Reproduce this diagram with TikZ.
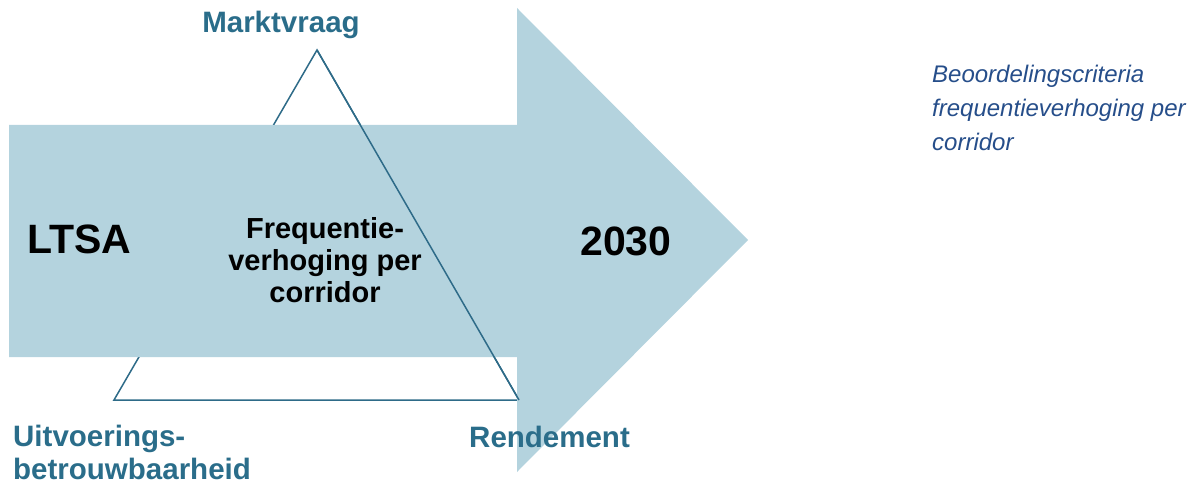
\documentclass[tikz,border=0pt]{standalone}
\usepackage{fontspec}
\setmainfont{Liberation Sans}
\usetikzlibrary{positioning}
\definecolor{arrowblue}{HTML}{B4D3DE}
\definecolor{edgeteal}{HTML}{2E6B88}
\definecolor{labelteal}{HTML}{2A6D8A}
\definecolor{notenavy}{HTML}{264E8A}
\tikzstyle{bigtext} = [font=\fontsize{41}{41}\selectfont\bfseries, inner sep=0pt]
\tikzstyle{midtext} = [font=\fontsize{29}{32}\selectfont\bfseries, align=center, inner sep=0pt]
\tikzstyle{corner} = [font=\fontsize{29.5}{33}\selectfont\bfseries, text=labelteal, inner sep=0pt]
\tikzstyle{note} = [font=\fontsize{24}{34}\selectfont\itshape, text=notenavy, align=left, inner sep=0pt]
\tikzstyle{edge} = [draw=edgeteal, line width=1.5pt]

\begin{document}
\begin{tikzpicture}[x=1pt, y=-1pt]
			\useasboundingbox (0,0) rectangle (1200,489);
			\coordinate (apex) at (317,50);
			\coordinate (bl) at (114,400);
			\coordinate (br) at (519,400);
			
			\path [edge, fill=white] (apex) -- (bl) -- (br) -- cycle;
			\fill [arrowblue] (9,125) -- (517,125) -- (517,8) -- (748,240) -- (517,472) -- (517,357) -- (9,357) -- cycle;
			\path [edge] (apex) -- (br);
			
			\node [bigtext, anchor=base west] (ltsa) at (27,254) {LTSA};
			\node [bigtext, anchor=base west] (year) at (580,255) {2030};
			\node [midtext, anchor=north] (centre) at (325,217) {Frequentie-\\verhoging per\\corridor};
			
			\node [corner, anchor=base] (demand) at (281,33) {Marktvraag};
			\node [corner, anchor=north west, align=left] (reliab) at (13,425) {Uitvoerings-\\betrouwbaarheid};
			\node [corner, anchor=base west] (yield) at (469,447) {Rendement};
			
			\node [note, anchor=north west] (criteria) at (932,64.5) {Beoordelingscriteria\\frequentieverhoging per\\corridor};
		\end{tikzpicture}
\end{document}
